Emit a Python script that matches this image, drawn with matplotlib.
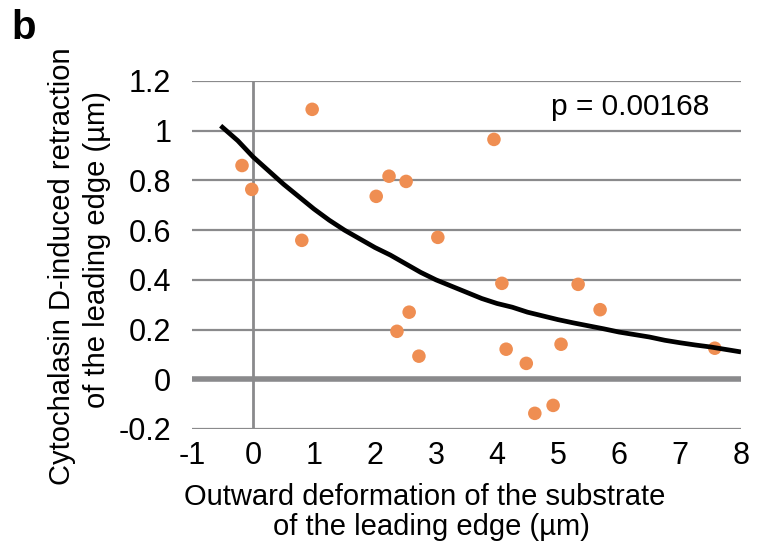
import matplotlib
matplotlib.use("Agg")
import matplotlib.pyplot as plt

plt.rcParams['font.family'] = ['Liberation Sans', 'DejaVu Sans']

# Scatter data
deform_x = [-0.18, -0.02, 0.97, 0.80, 2.02, 2.23, 2.51, 3.03, 3.95, 2.56, 2.36,
            2.72, 4.08, 4.15, 4.48, 4.62, 4.92, 5.05, 5.33, 5.69, 7.57]
retract_y = [0.86, 0.764, 1.086, 0.559, 0.736, 0.817, 0.796, 0.571, 0.965, 0.27, 0.193,
             0.093, 0.386, 0.121, 0.064, -0.137, -0.105, 0.141, 0.382, 0.28, 0.125]

# Trend curve
trend_x = [-0.53, -0.25, 0.0, 0.25, 0.5, 0.75, 1.0, 1.25, 1.5, 1.75, 2.0, 2.25, 2.5, 2.75,
           3.0, 3.25, 3.5, 3.75, 4.0, 4.25, 4.5, 4.75, 5.0, 5.25, 5.5, 5.75, 6.0, 6.25,
           6.5, 6.75, 7.0, 7.25, 7.5, 7.75, 8.0]
trend_y = [1.02, 0.96, 0.895, 0.84, 0.785, 0.735, 0.685, 0.64, 0.60, 0.565, 0.53, 0.50,
           0.465, 0.43, 0.40, 0.375, 0.35, 0.325, 0.305, 0.29, 0.27, 0.255, 0.24, 0.227,
           0.215, 0.203, 0.19, 0.18, 0.17, 0.157, 0.147, 0.138, 0.13, 0.12, 0.11]

x_ticks = [-1, 0, 1, 2, 3, 4, 5, 6, 7, 8]
y_ticks = [-0.2, 0, 0.2, 0.4, 0.6, 0.8, 1.0, 1.2]
y_labels = ['-0.2', '0', '0.2', '0.4', '0.6', '0.8', '1', '1.2']
p_text = "p = 0.00168"

fig = plt.figure(figsize=(7.58, 5.53), dpi=100)
ax = fig.add_axes([192/758, 1-429/553, (741-192)/758, (429-81)/553])
ax.set_xlim(-1, 8)
ax.set_ylim(-0.2, 1.2)
for s in ax.spines.values():
    s.set_visible(False)

grid_c = '#8a8a8c'
for yv in y_ticks:
    ax.axhline(yv, color=grid_c, lw=4 if yv == 0 else 1.6, zorder=1)
ax.axvline(0, color=grid_c, lw=2, zorder=1)

ax.scatter(deform_x, retract_y, s=95, color='#EF8E52', edgecolors='none', zorder=3)
ax.plot(trend_x, trend_y, color='black', lw=3.4, zorder=4, solid_capstyle='butt',
        solid_joinstyle='round')

ax.set_xticks(x_ticks)
ax.set_xticklabels([str(v) for v in x_ticks])
ax.set_yticks(y_ticks)
ax.set_yticklabels(y_labels)
ax.tick_params(axis='both', length=0, labelsize=22, colors='black')
ax.tick_params(axis='x', pad=9)
ax.tick_params(axis='y', pad=15)

ax.text(4.89, 1.094, p_text, fontsize=21.5, ha='left', va='center')

fig.text(425/758, 1-497/553, "Outward deformation of the substrate", fontsize=21,
         ha='center', va='center')
fig.text(431/758, 1-527/553, "of the leading edge (µm)", fontsize=21,
         ha='center', va='center')
fig.text(62/758, 1-266/553, "Cytochalasin D-induced retraction", fontsize=21,
         ha='center', va='center', rotation=90)
fig.text(97/758, 1-250/553, "of the leading edge (µm)", fontsize=21,
         ha='center', va='center', rotation=90)
fig.text(11/758, 1-28/553, "b", fontsize=29, fontweight='bold', ha='left', va='center')

fig.savefig("out.png", dpi=100)
